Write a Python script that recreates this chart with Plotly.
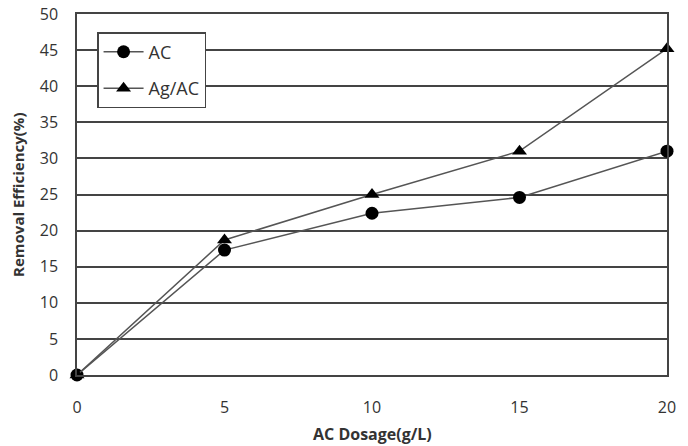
import plotly.graph_objects as go

dosage = [0, 5, 10, 15, 20]
ac = [0, 17.3, 22.4, 24.6, 31.0]
ag_ac = [0, 18.7, 25.0, 31.0, 45.2]
x_ticks = [0, 5, 10, 15, 20]
y_ticks = list(range(0, 51, 5))

fig = go.Figure()
fig.add_trace(go.Scatter(x=dosage, y=ac, name="AC", mode="lines+markers",
                         legendgroup="a",
                         line=dict(color="#555555", width=1.5),
                         marker=dict(symbol="circle", size=13, color="black"),
                         cliponaxis=False))
fig.add_trace(go.Scatter(x=dosage, y=ag_ac, name="Ag/AC", mode="lines+markers",
                         legendgroup="b",
                         line=dict(color="#555555", width=1.5),
                         marker=dict(symbol="triangle-up", size=13, color="black"),
                         cliponaxis=False))

font_family = "Open Sans, Liberation Sans, sans-serif"
fig.update_layout(
    width=688, height=446,
    margin=dict(l=77, r=21, t=14, b=71),
    paper_bgcolor="white", plot_bgcolor="white",
    font=dict(family=font_family, size=16, color="#333333"),
    showlegend=True,
    legend=dict(x=0.034, y=0.95, xanchor="left", yanchor="top",
                bgcolor="white", bordercolor="#444444", borderwidth=1.5,
                font=dict(size=18, color="#333333"), itemwidth=40,
                tracegroupgap=10),
    xaxis=dict(range=[0, 20], tickvals=x_ticks, showgrid=False, automargin=False,
               showline=True, linecolor="#444444", linewidth=1.5, mirror=True,
               zeroline=False, ticks="", ticklen=0, ticklabelstandoff=17,
               tickfont=dict(size=16, color="#333333")),
    yaxis=dict(range=[0, 50], tickvals=y_ticks, showgrid=True, automargin=False,
               gridcolor="#444444", gridwidth=1.5,
               showline=True, linecolor="#444444", linewidth=1.5, mirror=True,
               zeroline=False, ticks="", ticklen=0, ticklabelstandoff=14,
               tickfont=dict(size=16, color="#333333")),
    annotations=[
        dict(text="<b>AC Dosage(g/L)</b>", xref="paper", yref="paper",
             x=0.5, y=-0.163, xanchor="center", yanchor="middle", showarrow=False,
             font=dict(size=16, color="#333333")),
        dict(text="<b>Removal Efficiency(%)</b>", xref="paper", yref="paper",
             x=-0.101, y=0.5, xanchor="center", yanchor="middle", showarrow=False,
             textangle=-90, font=dict(size=15, color="#333333")),
    ],
)

fig.write_html("out.html")
